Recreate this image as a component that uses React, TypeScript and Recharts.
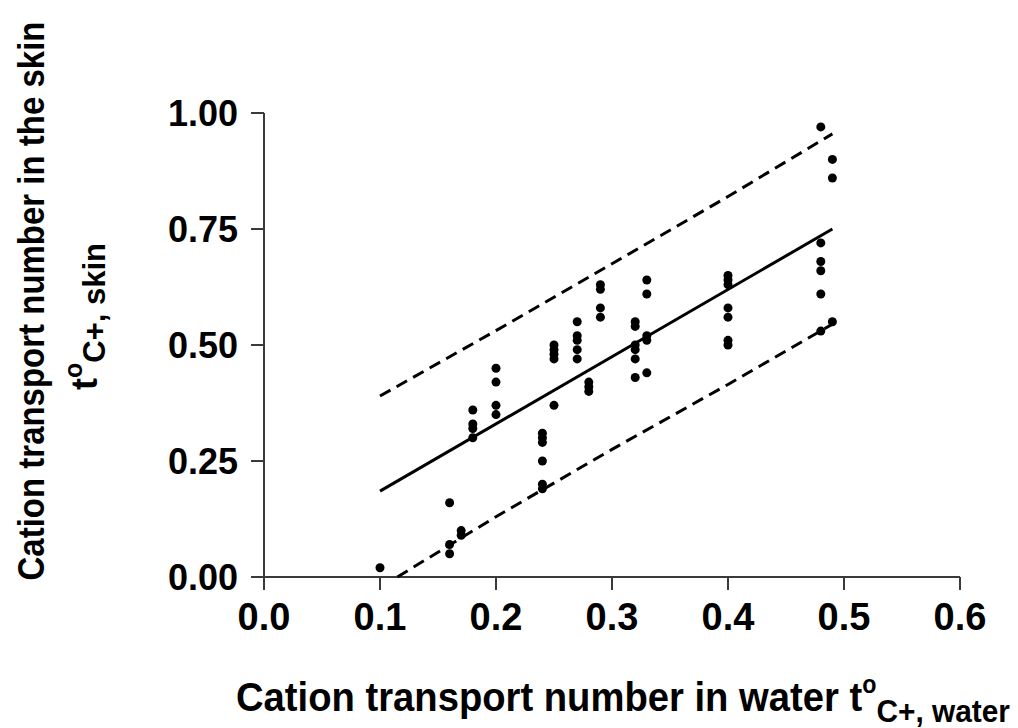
import { ScatterChart, Scatter, XAxis, YAxis, Label } from 'recharts'

// measured points (water transport number vs skin transport number)
const waterX = [
  0.1,
  0.16, 0.16, 0.16,
  0.17, 0.17,
  0.18, 0.18, 0.18, 0.18,
  0.2, 0.2, 0.2, 0.2,
  0.24, 0.24, 0.24, 0.24, 0.24, 0.24,
  0.25, 0.25, 0.25, 0.25, 0.25,
  0.27, 0.27, 0.27, 0.27, 0.27,
  0.28, 0.28, 0.28,
  0.29, 0.29, 0.29, 0.29,
  0.32, 0.32, 0.32, 0.32, 0.32, 0.32,
  0.33, 0.33, 0.33, 0.33, 0.33,
  0.4, 0.4, 0.4, 0.4, 0.4, 0.4, 0.4,
  0.48, 0.48, 0.48, 0.48, 0.48, 0.48,
  0.49, 0.49, 0.49,
]
const skinY = [
  0.02,
  0.16, 0.07, 0.05,
  0.1, 0.09,
  0.36, 0.33, 0.32, 0.3,
  0.45, 0.42, 0.37, 0.35,
  0.31, 0.3, 0.29, 0.25, 0.2, 0.19,
  0.5, 0.49, 0.48, 0.47, 0.37,
  0.55, 0.52, 0.51, 0.49, 0.47,
  0.42, 0.41, 0.4,
  0.63, 0.62, 0.58, 0.56,
  0.55, 0.54, 0.5, 0.49, 0.47, 0.43,
  0.64, 0.61, 0.52, 0.51, 0.44,
  0.65, 0.64, 0.63, 0.58, 0.56, 0.51, 0.5,
  0.97, 0.72, 0.68, 0.66, 0.61, 0.53,
  0.9, 0.86, 0.55,
]

// regression line and prediction band
const fitX = [0.1, 0.49]
const fitY = [0.185, 0.75]
const upperX = [0.1, 0.2, 0.3, 0.4, 0.49]
const upperY = [0.39, 0.531, 0.675, 0.82, 0.955]
const lowerX = [0.115, 0.2, 0.3, 0.4, 0.49]
const lowerY = [0, 0.13, 0.275, 0.415, 0.545]

const xTicks = [0, 0.1, 0.2, 0.3, 0.4, 0.5, 0.6]
const yTicks = [0, 0.25, 0.5, 0.75, 1]

const toRows = (xs: number[], ys: number[]) => xs.map((x, i) => ({ x, y: ys[i] }))

const points = toRows(waterX, skinY)
const fit = toRows(fitX, fitY)
const upper = toRows(upperX, upperY)
const lower = toRows(lowerX, lowerY)

const FONT = '"Liberation Sans", Arial, Helvetica, sans-serif'
const AXIS = '#3a3a3a'

const noShape = () => <g />

function YTitle() {
  return (
    <g fontFamily={FONT} fontWeight="bold" fill="#000">
      <text
        x={0} y={0} transform="translate(44 301) rotate(-90) scale(1 1.12)"
        textAnchor="middle" fontSize={33}
      >
        Cation transport number in the skin
      </text>
      <text x={97} y={390} transform="rotate(-90 97 390)" fontSize={36}>
        t
        <tspan fontSize={25} dy={-15}>o</tspan>
        <tspan fontSize={31} dy={23}>C+, skin</tspan>
      </text>
    </g>
  )
}

function XTitle() {
  return (
    <text
      x={0} y={0} transform="translate(236 711) scale(0.932 1)"
      fontFamily={FONT} fontWeight="bold" fill="#000" fontSize={41}
    >
      Cation transport number in water t
      <tspan fontSize={25} dy={-18}>o</tspan>
      <tspan fontSize={32} dy={29}>C+, water</tspan>
    </text>
  )
}

export default function App() {
  return (
    <div style={{ position: 'absolute', left: 0, top: 0, background: '#fff' }}>
      <ScatterChart width={1018} height={728} margin={{ top: 113, right: 58, left: 0, bottom: 0 }}>
        <XAxis
          type="number"
          dataKey="x"
          domain={[0, 0.6]}
          ticks={xTicks}
          interval={0}
          height={151}
          tickSize={13}
          tickMargin={13}
          stroke={AXIS}
          strokeWidth={2}
          tickFormatter={(v: number) => v.toFixed(1)}
          tick={{ fontSize: 38, fontWeight: 'bold', fill: '#000', fontFamily: FONT }}
        >
          <Label content={() => <XTitle />} />
        </XAxis>
        <YAxis
          type="number"
          dataKey="y"
          domain={[0, 1]}
          ticks={yTicks}
          interval={0}
          width={264}
          tickSize={13}
          tickMargin={13}
          stroke={AXIS}
          strokeWidth={2}
          tickFormatter={(v: number) => v.toFixed(2)}
          tick={{ fontSize: 36, fontWeight: 'bold', fill: '#000', fontFamily: FONT }}
        >
          <Label content={() => <YTitle />} />
        </YAxis>
        <Scatter
          data={upper}
          line={{ stroke: '#000', strokeWidth: 3, strokeDasharray: '12 7' }}
          shape={noShape}
          isAnimationActive={false}
        />
        <Scatter
          data={lower}
          line={{ stroke: '#000', strokeWidth: 3, strokeDasharray: '12 7' }}
          shape={noShape}
          isAnimationActive={false}
        />
        <Scatter
          data={fit}
          line={{ stroke: '#000', strokeWidth: 3 }}
          shape={noShape}
          isAnimationActive={false}
        />
        <Scatter
          data={points}
          fill="#000"
          shape={(p: any) => <circle cx={p.cx} cy={p.cy} r={4.5} fill="#000" />}
          isAnimationActive={false}
        />
      </ScatterChart>
    </div>
  )
}
